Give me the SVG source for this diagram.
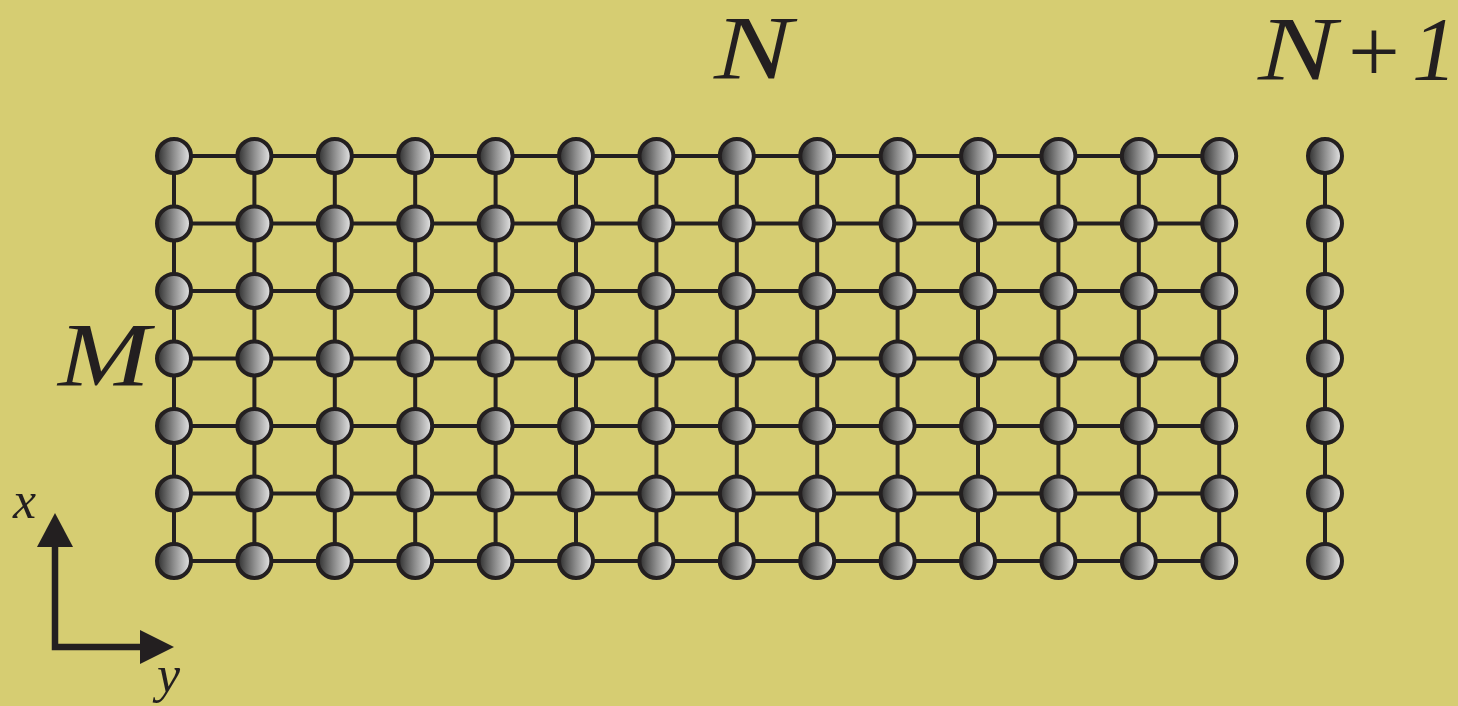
<svg xmlns="http://www.w3.org/2000/svg" xmlns:xlink="http://www.w3.org/1999/xlink" width="1458" height="706" viewBox="0 0 1458 706">
<style>
.ln{stroke:#231F20;stroke-width:4;fill:none}
.ax{stroke:#231F20;stroke-width:6.5;fill:none}
.nd{fill:url(#ball);stroke:#231F20;stroke-width:4}
.lbl{font-family:"Liberation Serif","DejaVu Serif",serif;font-style:italic;fill:#231F20}
</style>
<defs>
<linearGradient id="ball" x1="0" y1="0" x2="1" y2="0">
<stop offset="0" stop-color="#2e2e2e"/>
<stop offset="0.5" stop-color="#8e8e8e"/>
<stop offset="1" stop-color="#e8e8e8"/>
</linearGradient>
<circle id="b" r="17" class="nd"/>
</defs>
<rect width="1458" height="706" fill="#D6CD72"/>
<g id="connectors">
<path class="ln" d="M174 156H1219.2M174 223.5H1219.2M174 291H1219.2M174 358.5H1219.2M174 426H1219.2M174 493.5H1219.2M174 561H1219.2"/>
<path class="ln" d="M174 156V561M254.4 156V561M334.8 156V561M415.2 156V561M495.6 156V561M576 156V561M656.4 156V561M736.8 156V561M817.2 156V561M897.6 156V561M978 156V561M1058.4 156V561M1138.8 156V561M1219.2 156V561M1325 156V561"/>
</g>
<g id="nodes">
<g id="n1-1"><use xlink:href="#b" x="174" y="156"/></g><g id="n1-2"><use xlink:href="#b" x="254.4" y="156"/></g><g id="n1-3"><use xlink:href="#b" x="334.8" y="156"/></g><g id="n1-4"><use xlink:href="#b" x="415.2" y="156"/></g><g id="n1-5"><use xlink:href="#b" x="495.6" y="156"/></g><g id="n1-6"><use xlink:href="#b" x="576" y="156"/></g><g id="n1-7"><use xlink:href="#b" x="656.4" y="156"/></g><g id="n1-8"><use xlink:href="#b" x="736.8" y="156"/></g><g id="n1-9"><use xlink:href="#b" x="817.2" y="156"/></g><g id="n1-10"><use xlink:href="#b" x="897.6" y="156"/></g><g id="n1-11"><use xlink:href="#b" x="978" y="156"/></g><g id="n1-12"><use xlink:href="#b" x="1058.4" y="156"/></g><g id="n1-13"><use xlink:href="#b" x="1138.8" y="156"/></g><g id="n1-14"><use xlink:href="#b" x="1219.2" y="156"/></g><g id="n1-15"><use xlink:href="#b" x="1325" y="156"/></g>
<g id="n2-1"><use xlink:href="#b" x="174" y="223.5"/></g><g id="n2-2"><use xlink:href="#b" x="254.4" y="223.5"/></g><g id="n2-3"><use xlink:href="#b" x="334.8" y="223.5"/></g><g id="n2-4"><use xlink:href="#b" x="415.2" y="223.5"/></g><g id="n2-5"><use xlink:href="#b" x="495.6" y="223.5"/></g><g id="n2-6"><use xlink:href="#b" x="576" y="223.5"/></g><g id="n2-7"><use xlink:href="#b" x="656.4" y="223.5"/></g><g id="n2-8"><use xlink:href="#b" x="736.8" y="223.5"/></g><g id="n2-9"><use xlink:href="#b" x="817.2" y="223.5"/></g><g id="n2-10"><use xlink:href="#b" x="897.6" y="223.5"/></g><g id="n2-11"><use xlink:href="#b" x="978" y="223.5"/></g><g id="n2-12"><use xlink:href="#b" x="1058.4" y="223.5"/></g><g id="n2-13"><use xlink:href="#b" x="1138.8" y="223.5"/></g><g id="n2-14"><use xlink:href="#b" x="1219.2" y="223.5"/></g><g id="n2-15"><use xlink:href="#b" x="1325" y="223.5"/></g>
<g id="n3-1"><use xlink:href="#b" x="174" y="291"/></g><g id="n3-2"><use xlink:href="#b" x="254.4" y="291"/></g><g id="n3-3"><use xlink:href="#b" x="334.8" y="291"/></g><g id="n3-4"><use xlink:href="#b" x="415.2" y="291"/></g><g id="n3-5"><use xlink:href="#b" x="495.6" y="291"/></g><g id="n3-6"><use xlink:href="#b" x="576" y="291"/></g><g id="n3-7"><use xlink:href="#b" x="656.4" y="291"/></g><g id="n3-8"><use xlink:href="#b" x="736.8" y="291"/></g><g id="n3-9"><use xlink:href="#b" x="817.2" y="291"/></g><g id="n3-10"><use xlink:href="#b" x="897.6" y="291"/></g><g id="n3-11"><use xlink:href="#b" x="978" y="291"/></g><g id="n3-12"><use xlink:href="#b" x="1058.4" y="291"/></g><g id="n3-13"><use xlink:href="#b" x="1138.8" y="291"/></g><g id="n3-14"><use xlink:href="#b" x="1219.2" y="291"/></g><g id="n3-15"><use xlink:href="#b" x="1325" y="291"/></g>
<g id="n4-1"><use xlink:href="#b" x="174" y="358.5"/></g><g id="n4-2"><use xlink:href="#b" x="254.4" y="358.5"/></g><g id="n4-3"><use xlink:href="#b" x="334.8" y="358.5"/></g><g id="n4-4"><use xlink:href="#b" x="415.2" y="358.5"/></g><g id="n4-5"><use xlink:href="#b" x="495.6" y="358.5"/></g><g id="n4-6"><use xlink:href="#b" x="576" y="358.5"/></g><g id="n4-7"><use xlink:href="#b" x="656.4" y="358.5"/></g><g id="n4-8"><use xlink:href="#b" x="736.8" y="358.5"/></g><g id="n4-9"><use xlink:href="#b" x="817.2" y="358.5"/></g><g id="n4-10"><use xlink:href="#b" x="897.6" y="358.5"/></g><g id="n4-11"><use xlink:href="#b" x="978" y="358.5"/></g><g id="n4-12"><use xlink:href="#b" x="1058.4" y="358.5"/></g><g id="n4-13"><use xlink:href="#b" x="1138.8" y="358.5"/></g><g id="n4-14"><use xlink:href="#b" x="1219.2" y="358.5"/></g><g id="n4-15"><use xlink:href="#b" x="1325" y="358.5"/></g>
<g id="n5-1"><use xlink:href="#b" x="174" y="426"/></g><g id="n5-2"><use xlink:href="#b" x="254.4" y="426"/></g><g id="n5-3"><use xlink:href="#b" x="334.8" y="426"/></g><g id="n5-4"><use xlink:href="#b" x="415.2" y="426"/></g><g id="n5-5"><use xlink:href="#b" x="495.6" y="426"/></g><g id="n5-6"><use xlink:href="#b" x="576" y="426"/></g><g id="n5-7"><use xlink:href="#b" x="656.4" y="426"/></g><g id="n5-8"><use xlink:href="#b" x="736.8" y="426"/></g><g id="n5-9"><use xlink:href="#b" x="817.2" y="426"/></g><g id="n5-10"><use xlink:href="#b" x="897.6" y="426"/></g><g id="n5-11"><use xlink:href="#b" x="978" y="426"/></g><g id="n5-12"><use xlink:href="#b" x="1058.4" y="426"/></g><g id="n5-13"><use xlink:href="#b" x="1138.8" y="426"/></g><g id="n5-14"><use xlink:href="#b" x="1219.2" y="426"/></g><g id="n5-15"><use xlink:href="#b" x="1325" y="426"/></g>
<g id="n6-1"><use xlink:href="#b" x="174" y="493.5"/></g><g id="n6-2"><use xlink:href="#b" x="254.4" y="493.5"/></g><g id="n6-3"><use xlink:href="#b" x="334.8" y="493.5"/></g><g id="n6-4"><use xlink:href="#b" x="415.2" y="493.5"/></g><g id="n6-5"><use xlink:href="#b" x="495.6" y="493.5"/></g><g id="n6-6"><use xlink:href="#b" x="576" y="493.5"/></g><g id="n6-7"><use xlink:href="#b" x="656.4" y="493.5"/></g><g id="n6-8"><use xlink:href="#b" x="736.8" y="493.5"/></g><g id="n6-9"><use xlink:href="#b" x="817.2" y="493.5"/></g><g id="n6-10"><use xlink:href="#b" x="897.6" y="493.5"/></g><g id="n6-11"><use xlink:href="#b" x="978" y="493.5"/></g><g id="n6-12"><use xlink:href="#b" x="1058.4" y="493.5"/></g><g id="n6-13"><use xlink:href="#b" x="1138.8" y="493.5"/></g><g id="n6-14"><use xlink:href="#b" x="1219.2" y="493.5"/></g><g id="n6-15"><use xlink:href="#b" x="1325" y="493.5"/></g>
<g id="n7-1"><use xlink:href="#b" x="174" y="561"/></g><g id="n7-2"><use xlink:href="#b" x="254.4" y="561"/></g><g id="n7-3"><use xlink:href="#b" x="334.8" y="561"/></g><g id="n7-4"><use xlink:href="#b" x="415.2" y="561"/></g><g id="n7-5"><use xlink:href="#b" x="495.6" y="561"/></g><g id="n7-6"><use xlink:href="#b" x="576" y="561"/></g><g id="n7-7"><use xlink:href="#b" x="656.4" y="561"/></g><g id="n7-8"><use xlink:href="#b" x="736.8" y="561"/></g><g id="n7-9"><use xlink:href="#b" x="817.2" y="561"/></g><g id="n7-10"><use xlink:href="#b" x="897.6" y="561"/></g><g id="n7-11"><use xlink:href="#b" x="978" y="561"/></g><g id="n7-12"><use xlink:href="#b" x="1058.4" y="561"/></g><g id="n7-13"><use xlink:href="#b" x="1138.8" y="561"/></g><g id="n7-14"><use xlink:href="#b" x="1219.2" y="561"/></g><g id="n7-15"><use xlink:href="#b" x="1325" y="561"/></g>
</g>
<g id="axes">
<path class="ax" d="M55 546V647H142"/>
<polygon points="55,513 37,547 73,547" fill="#231F20"/>
<polygon points="174,647 140,630 140,664" fill="#231F20"/>
<text class="lbl" x="13" y="518" font-size="52">x</text>
<text class="lbl" x="157" y="692" font-size="52">y</text>
</g>
<g id="labels">
<text class="lbl" x="714" y="79" font-size="90" textLength="78" lengthAdjust="spacingAndGlyphs">N</text>
<text class="lbl" x="1258" y="80" font-size="90"><tspan textLength="78" lengthAdjust="spacingAndGlyphs">N</tspan><tspan x="1348" y="82" font-size="92" font-style="normal">+</tspan><tspan x="1412" y="80">1</tspan></text>
<text class="lbl" x="58" y="386" font-size="90" textLength="92" lengthAdjust="spacingAndGlyphs">M</text>
</g>
</svg>
